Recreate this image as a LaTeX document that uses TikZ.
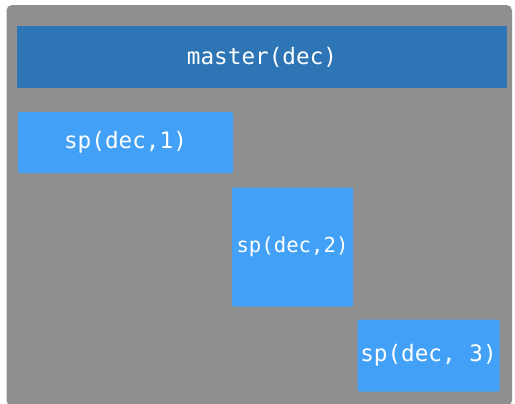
\documentclass[tikz,border=0pt]{standalone}
\usepackage{fontspec}
\setmonofont{DejaVu Sans Mono}
\definecolor{panelgray}{HTML}{8F8F8F}
\definecolor{masterblue}{HTML}{2E75B6}
\definecolor{spblue}{HTML}{42A1F6}
\begin{document}
\begin{tikzpicture}[x=0.75pt,y=-0.75pt,
  blk/.style={fill=#1, draw=none, rounded corners=1pt, text=white,
    font=\ttfamily\fontsize{17pt}{19pt}\selectfont, inner sep=0pt},
  small/.style={font=\ttfamily\fontsize{15.5pt}{17pt}\selectfont},
]
\useasboundingbox (0,0) rectangle (515,404);
% outer panel
\fill[panelgray, rounded corners=4pt] (6.5,5) rectangle (512,406);
% master bar
\node[blk=masterblue, minimum width=490*0.75pt, minimum height=62*0.75pt, rounded corners=0pt]
  (master) at (262,57) {master(dec)};
% sub-process boxes
\node[blk=spblue, minimum width=215*0.75pt, minimum height=61*0.75pt]
  (sp1) at (125.5,142.5) {sp(dec,1)};
\node[blk=spblue, small, minimum width=121*0.75pt, minimum height=119*0.75pt]
  (sp2) at (292.5,247) {sp(dec,2)};
\node[blk=spblue, minimum width=142*0.75pt, minimum height=72*0.75pt]
  (sp3) at (428.5,355.5) {sp(dec, 3)};
\end{tikzpicture}
\end{document}
